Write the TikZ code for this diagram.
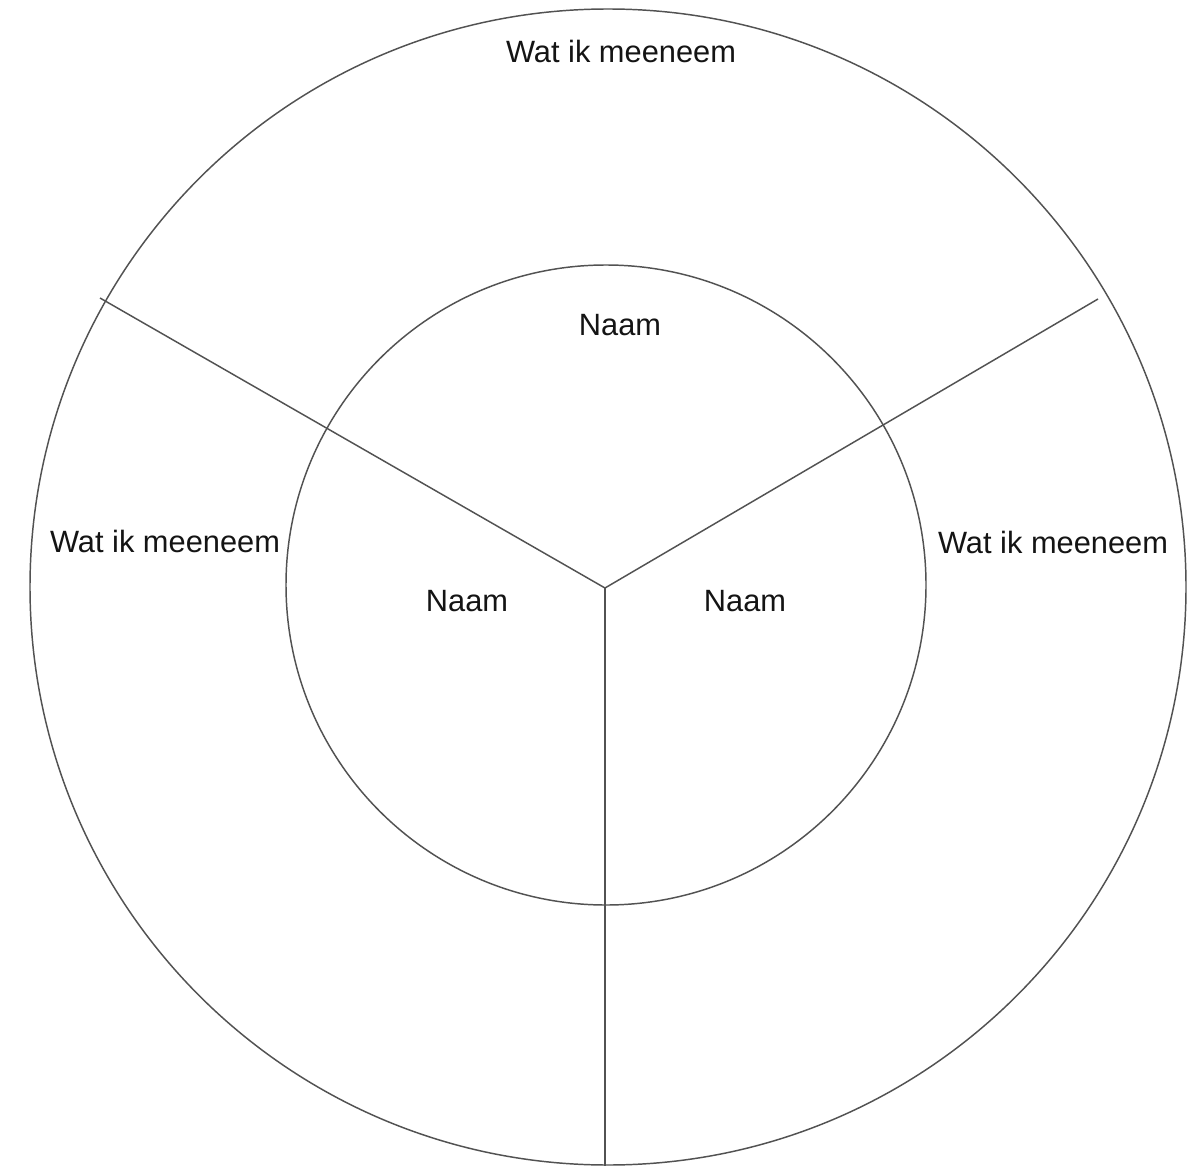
\documentclass[tikz,border=0pt]{standalone}
\usepackage{fontspec}
\setmainfont{Liberation Sans}
\begin{document}
\begin{tikzpicture}[x=0.75pt,y=-0.75pt,
  ring/.style={draw=black!68,line width=1.1pt},
  divider/.style={draw=black!68,line width=1.1pt},
  lbl/.style={anchor=base,inner sep=0pt,font=\fontsize{23.1}{27}\selectfont,text=black!92}]
\useasboundingbox (0,0) rectangle (1199,1166);
\fill[white] (0,0) rectangle (1199,1166);
\node[ring,circle,minimum size=1156*0.75pt,inner sep=0pt] (outer) at (608,587) {};
\node[ring,circle,minimum size=640*0.75pt,inner sep=0pt] (inner) at (606,585) {};
\coordinate (c) at (605,588);
\coordinate (ul) at (100,298);
\coordinate (ur) at (1098,299);
\coordinate (dn) at (605,1166);
\draw[divider] (ul) -- (c) -- (ur);
\draw[divider] (c) -- (dn);
\node[lbl] (wtop) at (621,63) {Wat ik meeneem};
\node[lbl] (wleft) at (165,552) {Wat ik meeneem};
\node[lbl] (wright) at (1053,553) {Wat ik meeneem};
\node[lbl] (ntop) at (620,335) {Naam};
\node[lbl] (nleft) at (467,611) {Naam};
\node[lbl] (nright) at (745,611) {Naam};
\end{tikzpicture}
\end{document}
